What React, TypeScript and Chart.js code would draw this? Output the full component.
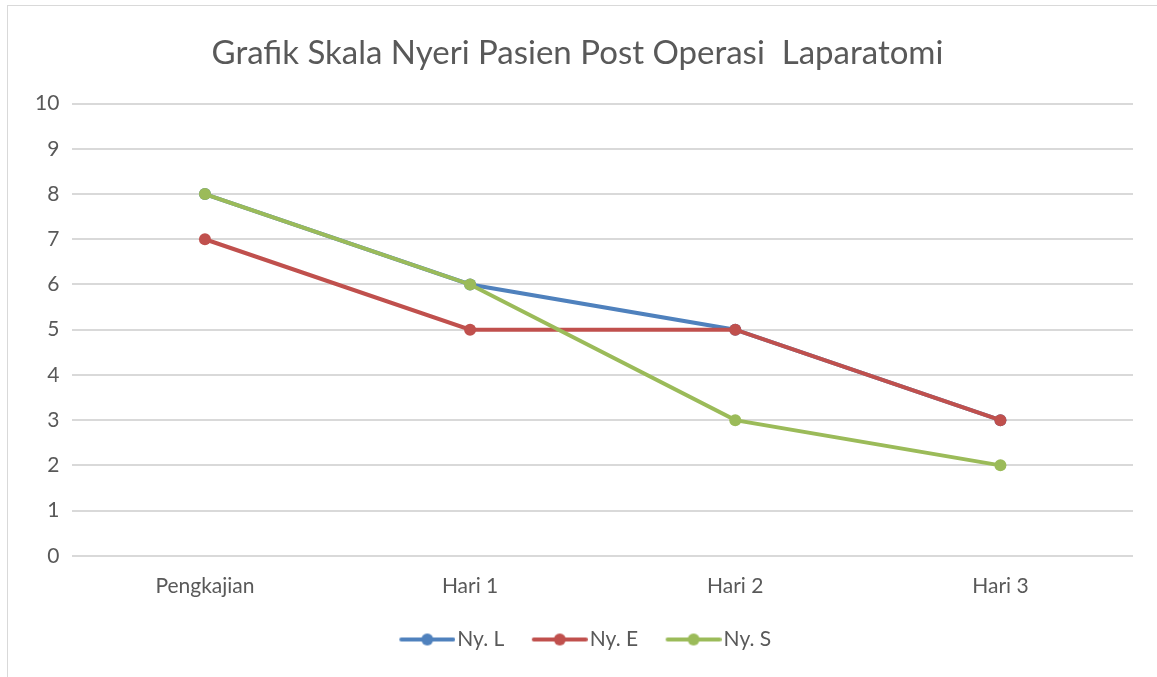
import React, { useEffect, useRef } from "react";
import { Chart, registerables } from "chart.js";

Chart.register(...registerables);

const TITLE = "Grafik Skala Nyeri Pasien Post Operasi  Laparatomi";
const categories = ["Pengkajian", "Hari 1", "Hari 2", "Hari 3"];
const seriesNames = ["Ny. L", "Ny. E", "Ny. S"];
const nyL = [8, 6, 5, 3];
const nyE = [7, 5, 5, 3];
const nyS = [8, 6, 3, 2];
const colors = ["#4F81BD", "#C0504D", "#9BBB59"];
const yTicks = [0, 1, 2, 3, 4, 5, 6, 7, 8, 9, 10];

const FONT = "Lato, 'Open Sans', sans-serif";

// legend icon: line with a dot, drawn into a canvas; the icon sits at the right
// part of the canvas so that it ends just before the label text
function legendIcon(color: string): HTMLCanvasElement {
  const c = document.createElement("canvas");
  c.width = 80;
  c.height = 14;
  const ctx = c.getContext("2d")!;
  ctx.strokeStyle = color;
  ctx.lineWidth = 4;
  ctx.lineCap = "round";
  ctx.beginPath();
  ctx.moveTo(26, 7);
  ctx.lineTo(78, 7);
  ctx.stroke();
  ctx.fillStyle = color;
  ctx.beginPath();
  ctx.arc(52, 7, 6, 0, Math.PI * 2);
  ctx.fill();
  return c;
}

export default function App() {
  const ref = useRef<HTMLCanvasElement | null>(null);
  useEffect(() => {
    document.body.style.margin = "0";
    const values = [nyL, nyE, nyS];
    const icons = colors.map(legendIcon);
    const chart = new Chart(ref.current!, {
      type: "line",
      data: {
        labels: categories,
        datasets: seriesNames.map((name, i) => ({
          label: name,
          data: values[i],
          borderColor: colors[i],
          backgroundColor: colors[i],
          borderWidth: 4,
          pointRadius: 6,
          pointBorderWidth: 0,
          pointBackgroundColor: colors[i],
          tension: 0,
          order: 3 - i,
        })),
      },
      options: {
        responsive: false,
        animation: false,
        layout: { padding: { left: 22, right: 24, top: 0, bottom: 17 } },
        plugins: {
          title: {
            display: true,
            text: TITLE,
            color: "#595959",
            font: { family: FONT, size: 33, weight: "normal" },
            padding: { top: 34, bottom: 30 },
          },
          legend: {
            position: "bottom",
            labels: {
              color: "#595959",
              font: { family: FONT, size: 21 },
              usePointStyle: true,
              pointStyleWidth: 63,
              padding: 12,
              generateLabels: (ch: any) =>
                ch.data.datasets.map((ds: any, i: number) => ({
                  text: ds.label,
                  fillStyle: colors[i],
                  strokeStyle: colors[i],
                  lineWidth: 0,
                  pointStyle: icons[i],
                  fontColor: "#595959",
                  hidden: false,
                  datasetIndex: i,
                })),
            },
          },
          tooltip: { enabled: false },
        },
        scales: {
          x: {
            offset: true,
            grid: { display: false, drawTicks: false },
            border: { display: false },
            ticks: {
              color: "#595959",
              font: { family: FONT, size: 21 },
              padding: 18,
            },
          },
          y: {
            min: 0,
            max: 10,
            afterBuildTicks: (axis: any) => {
              axis.ticks = yTicks.map((v) => ({ value: v }));
            },
            grid: { color: "#D9D9D9", lineWidth: 2, drawTicks: false },
            border: { display: false },
            ticks: {
              color: "#595959",
              font: { family: FONT, size: 21 },
              padding: 13,
            },
          },
        },
      },
    } as any);
    return () => chart.destroy();
  }, []);
  return (
    <div style={{ position: "relative", width: 1157, height: 677, overflow: "hidden", background: "#fff" }}>
      <div
        style={{
          position: "absolute",
          left: 7,
          top: 5,
          width: 1200,
          height: 700,
          border: "1px solid #D9D9D9",
          boxSizing: "border-box",
        }}
      />
      <canvas ref={ref} width={1157} height={677} style={{ position: "absolute", left: 0, top: 0 }} />
    </div>
  );
}
